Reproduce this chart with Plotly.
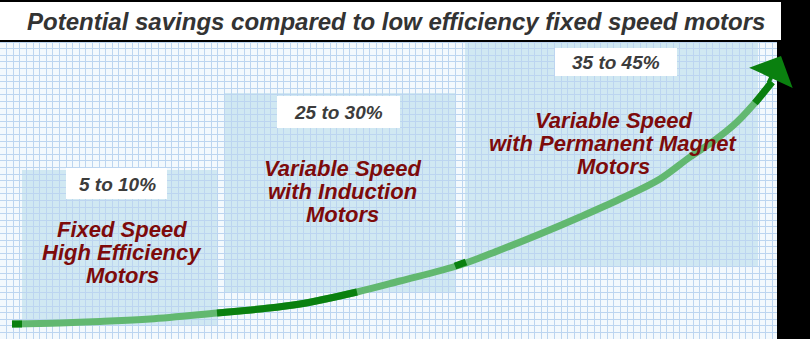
import plotly.graph_objects as go

# ---- data (pixel-like coordinate system) ----
curve_x = [12, 60, 100, 150, 217, 260, 300, 357, 400, 460, 500, 540, 580, 620, 660, 690, 715, 737, 760, 772]
curve_y = [324, 323, 321.5, 319, 313, 309, 304, 292, 281, 265, 250, 234, 217, 199, 179, 157, 140, 122, 97, 82]

dark1_x = [12, 22];            dark1_y = [324, 324]
dark2_x = [217, 260, 300, 357]; dark2_y = [313, 309, 304, 292]
dark3_x = [455, 466];          dark3_y = [266, 262]
dark4_x = [755, 772];          dark4_y = [103, 82]

arrow_tip = (781, 56)
arrow_tail = (768, 84)

title_text = "Potential savings compared to low efficiency fixed speed motors"
savings_labels = ["5 to 10%", "25 to 30%", "35 to 45%"]
savings_pos = [(117, 184), (338, 112), (616, 62)]
savings_boxes = [(66, 167, 168, 199), (277, 400, 96, 128), (555, 677, 48, 76)]
tech_lines = [["Fixed Speed", "High Efficiency", "Motors"],
              ["Variable Speed", "with Induction", "Motors"],
              ["Variable Speed", "with Permanent Magnet", "Motors"]]
tech_x = [122, 342, 613]
tech_y = [[229, 252, 275], [168, 191, 214], [120, 143, 166]]
zone_boxes = [(22, 217, 170, 325), (225, 455, 93, 293), (465, 758, 42, 266)]

LIGHT_GREEN = "#62b870"
DARK_GREEN = "#0a800f"
RED = "#7d0b0b"

fig = go.Figure()
fig.add_trace(go.Scatter(x=curve_x, y=curve_y, mode="lines",
                         line=dict(color=LIGHT_GREEN, width=7, shape="spline"),
                         hoverinfo="skip", showlegend=False))
for sx, sy in [(dark1_x, dark1_y), (dark2_x, dark2_y), (dark3_x, dark3_y), (dark4_x, dark4_y)]:
    fig.add_trace(go.Scatter(x=sx, y=sy, mode="lines",
                             line=dict(color=DARK_GREEN, width=7, shape="spline"),
                             hoverinfo="skip", showlegend=False))

shapes = []
for (x0, x1, y0, y1) in zone_boxes:
    shapes.append(dict(type="rect", xref="x", yref="y", x0=x0, x1=x1, y0=y0, y1=y1,
                       fillcolor="#d0e8f2", line=dict(width=0), layer="below"))
for (x0, x1, y0, y1) in savings_boxes:
    shapes.append(dict(type="rect", xref="x", yref="y", x0=x0, x1=x1, y0=y0, y1=y1,
                       fillcolor="white", line=dict(width=0), layer="above"))
# black right frame and title box
shapes.append(dict(type="rect", xref="x", yref="y", x0=777, x1=815, y0=-5, y1=345,
                   fillcolor="black", line=dict(width=0), layer="above"))
shapes.append(dict(type="rect", xref="x", yref="y", x0=-3, x1=782, y0=1, y1=41,
                   fillcolor="white", line=dict(color="black", width=2), layer="above"))

annotations = [dict(x=396, y=21, xref="x", yref="y", text="<b><i>%s</i></b>" % title_text,
                    showarrow=False, font=dict(family="Liberation Sans, Arial", size=24, color="#333333"))]
for t, (x, y) in zip(savings_labels, savings_pos):
    annotations.append(dict(x=x, y=y, xref="x", yref="y", text="<b><i>%s</i></b>" % t, showarrow=False,
                            font=dict(family="Liberation Sans, Arial", size=19, color="#3c3c3c")))
for lines, x, ys in zip(tech_lines, tech_x, tech_y):
    for t, y in zip(lines, ys):
        annotations.append(dict(x=x, y=y, xref="x", yref="y", text="<b><i>%s</i></b>" % t, showarrow=False,
                                font=dict(family="Liberation Sans, Arial", size=22, color=RED)))
annotations.append(dict(x=arrow_tip[0], y=arrow_tip[1], xref="x", yref="y",
                        ax=arrow_tail[0], ay=arrow_tail[1], axref="x", ayref="y",
                        showarrow=True, arrowhead=1, arrowsize=2.0, arrowwidth=4,
                        arrowcolor=DARK_GREEN, text=""))

axis_common = dict(showgrid=True, gridcolor="#bcd5f0", gridwidth=1, dtick=6.6,
                   showticklabels=False, zeroline=False, showline=False, ticks="", fixedrange=True)
fig.update_layout(
    width=810, height=339, margin=dict(l=0, r=0, t=0, b=0),
    paper_bgcolor="black", plot_bgcolor="#f3f9fd",
    xaxis=dict(range=[0, 810], tick0=0, **axis_common),
    yaxis=dict(range=[339, 0], tick0=42, **axis_common),
    shapes=shapes, annotations=annotations, showlegend=False,
)
fig.write_html("out.html")
